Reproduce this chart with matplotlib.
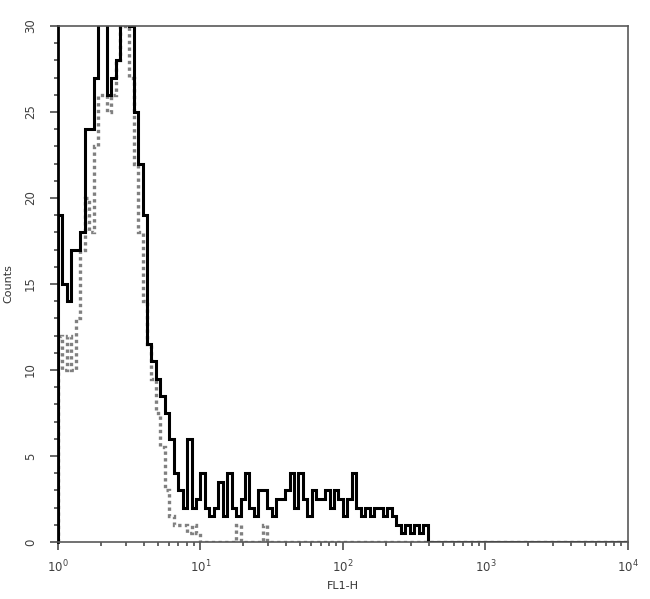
import numpy as np
import matplotlib.pyplot as plt
from matplotlib.ticker import LogLocator, MultipleLocator, NullFormatter

# channel counts, 128 log channels over 10^0..10^4 (only the non-zero start is listed)
n_channels = 128
sample_counts = [19, 15, 14, 17, 17, 18, 24, 24, 27, 31, 31, 26, 27, 28, 31, 31,
                 30, 25, 22, 19, 11.5, 10.5, 9.5, 8.5, 7.5, 6, 4, 3, 2, 6,
                 2, 2.5, 4, 2, 1.5, 2, 3.5, 1.5, 4, 2, 1.5, 2.5, 4, 2, 1.5, 3,
                 3, 2, 1.5, 2.5, 2.5, 3, 4, 2, 4, 2.5, 1.5, 3, 2.5, 2.5, 3, 2,
                 3, 2.5, 1.5, 2.5, 4, 2, 1.5, 2, 1.5, 2, 2, 1.5, 2, 1.5, 1, 0.5,
                 1, 0.5, 1, 0.5, 1, 0]
control_counts = [12, 10, 12, 10, 13, 17, 20, 18, 23, 26, 26, 25, 26, 28, 31, 30,
                  27, 22, 18, 14, 11.5, 9.5, 7.5, 5.5, 3, 1.5, 1, 1, 1, 0.5,
                  1, 0.5, 0, 0, 0, 0, 0, 0, 0, 0, 1, 0, 0, 0, 0, 0, 1, 0]

sample = np.zeros(n_channels)
sample[:len(sample_counts)] = sample_counts
control = np.zeros(n_channels)
control[:len(control_counts)] = control_counts
edges = np.logspace(0, 4, n_channels + 1)

fig = plt.figure(figsize=(6.5, 5.99), dpi=100)
ax = fig.add_axes([0.0892, 0.0952, 0.8768, 0.8614])

# dotted grey control, then solid black sample on top
ax.stairs(control, edges, color='0.5', linestyle=(0, (1, 1)), linewidth=2.4, baseline=0)
ax.stairs(sample, edges, color='black', linewidth=2.2, baseline=0)

ax.set_xscale('log')
ax.set_xlim(1, 1e4)
ax.set_ylim(0, 30)

ax.yaxis.set_major_locator(MultipleLocator(5))
ax.yaxis.set_minor_locator(MultipleLocator(1))
ax.xaxis.set_major_locator(LogLocator(base=10))
ax.xaxis.set_minor_locator(LogLocator(base=10, subs=np.arange(2, 10)))
ax.xaxis.set_minor_formatter(NullFormatter())

ax.tick_params(axis='both', which='major', direction='out', length=6, width=1.2,
               labelsize=8.5, color='0.3', labelcolor='0.25')
ax.tick_params(axis='y', which='major', pad=9)
ax.tick_params(axis='x', which='major', pad=6)
ax.tick_params(axis='both', which='minor', direction='out', length=3, width=1.2, color='0.3')
for lab in ax.get_yticklabels():
    lab.set_rotation(90)
    lab.set_va('center')

for sp in ax.spines.values():
    sp.set_color('0.35')
    sp.set_linewidth(1.2)
ax.spines['left'].set_color('black')
ax.spines['left'].set_linewidth(2)

ax.set_xlabel('FL1-H', fontsize=8, labelpad=4, color='0.2')
ax.set_ylabel('Counts', fontsize=8, labelpad=8, color='0.2')

plt.savefig('out.png', dpi=100)
